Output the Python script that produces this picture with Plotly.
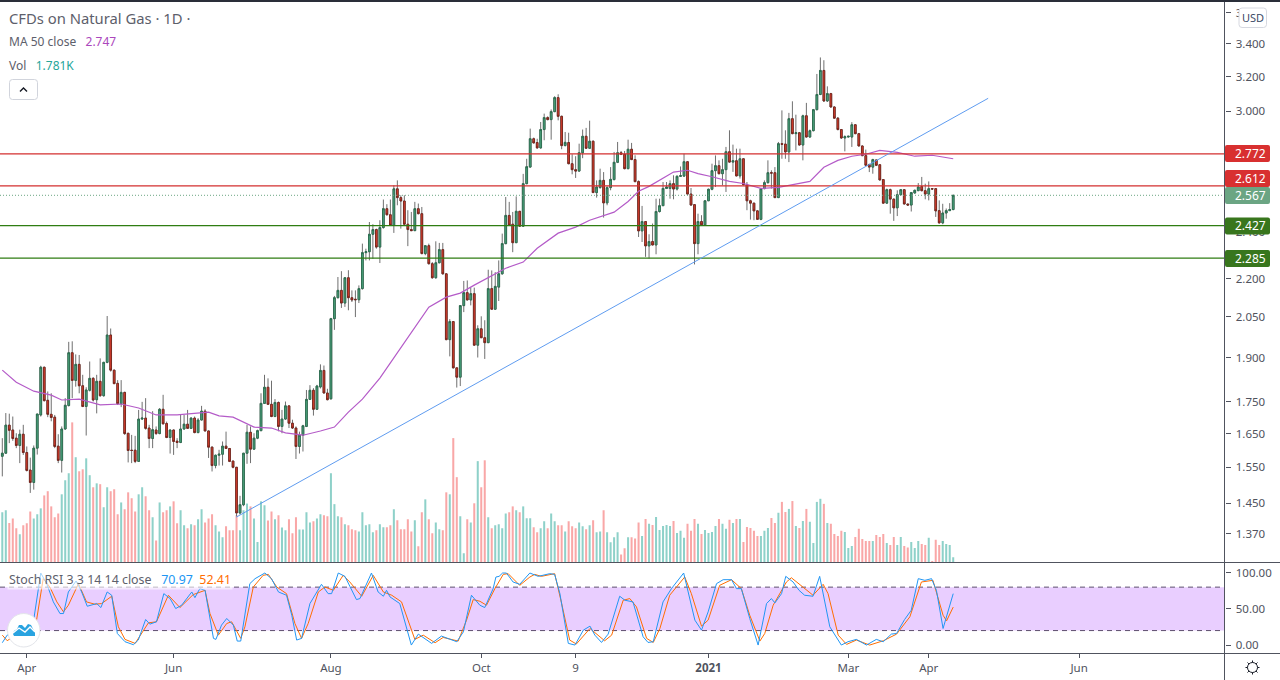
import plotly.graph_objects as go

W, H = 1280, 680

# daily candles
opens = [1.582,1.591,1.676,1.661,1.636,1.614,1.648,1.593,1.542,1.507,
1.606,1.708,1.866,1.755,1.71,1.701,1.612,1.57,1.664,1.738,
1.917,1.821,1.876,1.803,1.735,1.788,1.828,1.757,1.818,1.77,
1.883,1.981,1.856,1.811,1.744,1.781,1.651,1.6,1.6,1.567,
1.695,1.698,1.667,1.635,1.661,1.65,1.726,1.681,1.638,1.661,
1.627,1.623,1.664,1.679,1.666,1.698,1.653,1.692,1.72,1.658,
1.609,1.555,1.585,1.588,1.612,1.605,1.568,1.55,1.424,1.446,
1.591,1.654,1.603,1.636,1.659,1.745,1.798,1.742,1.703,1.748,
1.672,1.695,1.737,1.682,1.667,1.611,1.645,1.672,1.758,1.788,
1.726,
1.799,1.855,1.779,1.76,2.042,2.123,2.152,2.102,2.203,2.123,
2.117,2.115,2.159,2.308,2.312,2.388,2.409,2.332,2.418,2.504,
2.476,2.428,2.598,2.556,2.54,2.433,2.409,2.404,2.504,2.481,
2.304,2.338,2.261,2.203,2.265,2.321,2.219,1.964,2.031,1.864,
1.832,2.092,2.143,2.114,2.139,1.944,2.004,1.971,1.953,2.159,
2.078,2.165,2.219,2.347,2.473,2.433,2.351,2.492,2.424,2.623,
2.705,2.851,2.831,2.803,2.9,2.965,2.954,2.998,3.077,2.972,
2.815,2.831,2.722,2.692,2.685,2.778,2.864,2.801,2.838,2.58,
2.604,2.639,2.531,2.604,2.643,2.729,2.778,2.77,2.697,2.796,
2.743,2.633,
2.403,2.445,2.337,2.356,2.341,2.491,2.518,2.6,2.6,2.623,
2.597,2.659,2.66,2.732,2.573,2.523,2.347,2.445,2.43,2.541,
2.596,2.687,2.712,2.672,2.692,2.783,2.73,2.737,2.661,2.747,
2.618,2.541,2.53,2.494,2.455,2.599,2.628,2.677,2.677,2.556,
2.825,2.823,2.782,2.959,2.878,2.883,2.818,2.975,2.86,2.894,
3.009,3.095,3.236,3.058,3.1,3.024,2.962,2.9,2.855,2.86,
2.86,2.926,2.878,2.813,2.763,2.718,2.705,2.741,2.717,2.643,
2.53,2.594,2.549,2.508,2.57,2.594,2.526,2.521,2.578,2.589,
2.609,2.589,2.573,2.599,2.599,2.495,2.439,2.484,2.495,2.5]

highs = [1.636,1.714,1.712,1.703,1.651,1.662,1.677,1.611,1.578,1.614,
1.711,1.871,1.868,1.784,1.778,1.708,1.648,1.672,1.762,1.956,
1.958,1.911,1.909,1.84,1.798,1.886,1.832,1.84,1.897,1.885,
2.052,2.005,1.857,1.822,1.822,1.783,1.651,1.646,1.643,1.724,
1.75,1.762,1.677,1.72,1.672,1.73,1.773,1.687,1.662,1.662,
1.636,1.71,1.708,1.724,1.701,1.703,1.698,1.737,1.726,1.659,
1.611,1.587,1.601,1.626,1.656,1.606,1.569,1.55,1.47,1.591,
1.677,1.672,1.651,1.662,1.778,1.84,1.828,1.82,1.759,1.751,
1.724,1.751,1.737,1.693,1.672,1.656,1.677,1.789,1.805,1.795,
1.806,
1.876,1.872,1.793,2.045,2.13,2.206,2.23,2.206,2.234,2.152,
2.152,2.172,2.347,2.325,2.443,2.433,2.413,2.451,2.547,2.525,
2.547,2.615,2.639,2.567,2.567,2.497,2.489,2.536,2.528,2.512,
2.339,2.347,2.268,2.357,2.35,2.35,2.222,2.04,2.033,1.864,
2.093,2.19,2.192,2.163,2.163,2.017,2.051,2.036,2.236,2.233,
2.226,2.275,2.391,2.559,2.536,2.489,2.562,2.492,2.671,2.747,
2.905,2.857,2.851,2.941,2.987,2.972,3.01,3.085,3.096,2.976,
2.887,2.883,2.77,2.76,2.825,2.9,2.909,2.948,2.841,2.639,
2.697,2.68,2.61,2.705,2.782,2.834,2.787,2.787,2.846,2.829,
2.765,2.639,
2.517,2.447,2.388,2.436,2.551,2.551,2.631,2.631,2.639,2.664,
2.664,2.708,2.773,2.734,2.602,2.523,2.481,2.474,2.543,2.599,
2.722,2.764,2.739,2.747,2.808,2.896,2.82,2.799,2.799,2.751,
2.631,2.546,2.531,2.497,2.602,2.639,2.739,2.689,2.705,2.834,
3.005,2.896,2.991,3.056,2.981,2.887,2.981,3.047,2.9,3.013,
3.215,3.315,3.298,3.142,3.104,3.028,2.968,2.903,2.869,2.864,
2.94,2.93,2.882,2.816,2.794,2.722,2.747,2.741,2.717,2.643,
2.599,2.599,2.551,2.591,2.596,2.594,2.527,2.583,2.594,2.626,
2.656,2.623,2.634,2.599,2.599,2.543,2.527,2.505,2.53,2.57]

lows = [1.524,1.59,1.621,1.628,1.606,1.562,1.586,1.538,1.478,1.487,
1.587,1.703,1.751,1.701,1.688,1.606,1.562,1.535,1.662,1.735,
1.762,1.80,1.778,1.733,1.644,1.784,1.751,1.713,1.767,1.767,
1.88,1.851,1.809,1.74,1.733,1.646,1.564,1.562,1.562,1.567,
1.692,1.662,1.606,1.606,1.646,1.648,1.679,1.636,1.59,1.586,
1.606,1.621,1.662,1.664,1.664,1.651,1.651,1.691,1.657,1.577,
1.538,1.547,1.555,1.555,1.604,1.565,1.547,1.415,1.42,1.442,
1.56,1.562,1.601,1.633,1.657,1.743,1.74,1.701,1.701,1.657,
1.651,1.693,1.667,1.664,1.574,1.59,1.596,1.67,1.756,1.706,
1.724,
1.794,1.777,1.755,1.757,2.0,2.12,2.083,2.087,2.074,2.106,
2.048,2.102,2.155,2.275,2.275,2.282,2.325,2.264,2.413,2.473,
2.427,2.394,2.52,2.413,2.428,2.336,2.403,2.403,2.478,2.301,
2.297,2.258,2.199,2.199,2.263,2.216,1.962,1.904,1.862,1.797,
1.802,2.067,2.113,2.093,1.942,1.90,1.97,1.895,1.952,2.076,
2.076,2.11,2.216,2.344,2.427,2.31,2.35,2.421,2.421,2.62,
2.703,2.826,2.799,2.799,2.843,2.95,2.846,2.995,2.95,2.796,
2.811,2.719,2.669,2.651,2.682,2.75,2.798,2.799,2.578,2.556,
2.599,2.463,2.52,2.591,2.639,2.725,2.766,2.694,2.694,2.74,
2.63,2.376,
2.354,2.29,2.283,2.34,2.301,2.486,2.517,2.597,2.551,2.548,
2.59,2.656,2.656,2.57,2.518,2.258,2.301,2.428,2.428,2.54,
2.591,2.607,2.669,2.615,2.583,2.727,2.681,2.659,2.648,2.615,
2.497,2.454,2.451,2.454,2.451,2.596,2.623,2.599,2.554,2.554,
2.747,2.747,2.73,2.875,2.79,2.815,2.739,2.857,2.857,2.89,
3.005,3.091,3.052,3.052,3.02,2.959,2.896,2.85,2.785,2.858,
2.808,2.875,2.811,2.76,2.712,2.68,2.672,2.71,2.639,2.527,
2.527,2.481,2.448,2.47,2.565,2.524,2.519,2.491,2.575,2.588,
2.586,2.548,2.543,2.596,2.466,2.436,2.433,2.458,2.494,2.497]

closes = [1.591,1.676,1.66,1.635,1.614,1.648,1.593,1.541,1.507,1.606,
1.711,1.866,1.754,1.71,1.70,1.611,1.57,1.664,1.739,1.917,
1.821,1.876,1.803,1.735,1.789,1.828,1.756,1.818,1.77,1.883,
1.981,1.856,1.81,1.744,1.781,1.65,1.599,1.599,1.567,1.695,
1.698,1.666,1.635,1.662,1.65,1.726,1.68,1.638,1.661,1.626,
1.623,1.664,1.679,1.666,1.698,1.653,1.692,1.72,1.658,1.609,
1.555,1.585,1.588,1.612,1.605,1.567,1.55,1.424,1.446,1.591,
1.654,1.603,1.636,1.659,1.745,1.798,1.742,1.703,1.748,1.672,
1.695,1.737,1.682,1.667,1.611,1.645,1.674,1.758,1.788,1.726,
1.802,
1.855,1.779,1.757,2.042,2.123,2.152,2.102,2.203,2.123,2.114,
2.115,2.159,2.308,2.312,2.388,2.409,2.332,2.418,2.504,2.476,
2.428,2.598,2.556,2.54,2.433,2.409,2.404,2.504,2.481,2.304,
2.338,2.261,2.203,2.265,2.321,2.219,1.964,2.031,1.864,1.832,
2.092,2.143,2.114,2.139,1.944,2.004,1.971,1.953,2.159,2.078,
2.168,2.219,2.347,2.473,2.428,2.351,2.492,2.424,2.623,2.707,
2.851,2.829,2.803,2.9,2.965,2.954,2.998,3.077,2.972,2.815,
2.832,2.722,2.692,2.685,2.778,2.864,2.801,2.838,2.58,2.607,
2.639,2.531,2.604,2.644,2.729,2.778,2.77,2.697,2.796,2.743,
2.633,2.403,
2.445,2.337,2.356,2.341,2.491,2.518,2.6,2.607,2.623,2.597,
2.659,2.662,2.732,2.573,2.521,2.347,2.445,2.43,2.541,2.596,
2.687,2.712,2.672,2.692,2.783,2.73,2.737,2.661,2.747,2.618,
2.541,2.53,2.494,2.455,2.599,2.628,2.677,2.675,2.556,2.825,
2.822,2.782,2.959,2.878,2.883,2.818,2.975,2.86,2.894,3.009,
3.095,3.236,3.058,3.1,3.024,2.962,2.9,2.855,2.862,2.864,
2.926,2.878,2.813,2.763,2.714,2.705,2.743,2.714,2.641,2.53,
2.594,2.549,2.508,2.57,2.594,2.526,2.521,2.58,2.591,2.607,
2.589,2.573,2.599,2.597,2.494,2.439,2.484,2.495,2.5,2.567]

# volume in thousands
volumes = [17.8,18.5,14.0,15.6,12.1,10.0,13.2,13.9,18.1,15.6,
17.1,19.2,23.8,25.3,19.9,16.0,17.4,24.2,29.2,31.7,
49.8,37.4,32.4,33.1,37.0,31.0,26.7,28.1,27.8,19.6,
26.7,25.3,26.0,17.1,21.3,18.9,24.9,22.8,18.1,24.2,
26.7,23.5,18.5,16.0,7.8,21.3,17.8,18.5,19.9,21.7,
13.9,18.5,13.2,12.1,13.5,13.2,15.3,18.9,14.2,15.6,
17.1,13.2,11.0,8.9,12.8,11.4,11.4,16.7,11.4,18.5,
20.9,19.9,15.6,7.2,21.7,20.3,14.9,18.1,15.3,16.7,
12.4,11.4,15.3,10.3,16.0,11.7,11.7,17.8,14.2,14.6,
15.6,17.1,
16.7,16.4,31.7,20.7,16.4,16.0,13.5,13.2,11.8,11.4,
11.0,17.8,13.2,13.5,10.7,11.4,13.5,12.5,12.5,13.2,
18.9,15.0,11.8,11.8,15.3,11.0,15.0,5.7,17.8,22.4,
15.3,10.3,14.2,11.8,11.4,24.9,24.2,44.2,30.3,16.4,
3.2,15.3,14.2,21.0,36.0,26.7,36.3,16.0,12.1,13.2,
13.5,12.1,17.4,17.8,19.9,18.5,17.8,19.9,15.7,15.7,
12.5,10.7,12.1,14.6,12.1,17.4,14.6,13.2,13.2,11.0,
14.6,12.8,12.1,14.2,12.8,11.8,13.2,15.0,10.7,11.0,
18.5,10.7,7.1,8.9,10.7,2.8,5.0,8.9,8.9,8.5,
14.2,
9.4,15.4,13.7,13.3,16.1,11.5,12.9,13.3,12.9,14.7,
10.4,11.2,8.7,13.7,11.2,15.4,13.7,10.1,11.5,10.4,
10.8,12.9,15.4,13.7,11.9,15.1,14.0,15.4,15.4,7.2,
12.6,12.2,11.2,9.4,9.4,11.2,12.2,15.8,14.0,17.6,
21.5,17.9,19.0,21.8,12.9,12.2,14.7,19.0,14.4,6.9,
21.5,22.6,20.8,14.0,13.7,10.1,9.4,11.2,10.8,5.1,
5.8,9.0,11.9,8.3,7.6,7.6,7.6,9.7,9.0,10.1,
6.9,6.2,9.0,6.2,9.0,5.8,5.3,7.2,5.1,7.6,
6.5,6.2,8.7,0.5,8.0,6.2,7.6,6.5,6.2,1.781]

# MA 50, read at bar positions
ma_bars = [0,4,9,14,17,22,28,34,39,44,50,57,59,62,66,72,77,81,86,91,95,99,103,108,113,119,122,127,131,135,
139,144,149,153,159,164,168,175,179,182,185,188,192,196,199,203,208,212,217,222,226,231,235,239,243,247,251,256,261,266,272]
ma_vals = [1.856,1.815,1.785,1.772,1.756,1.759,1.74,1.743,1.73,1.708,1.708,1.714,1.717,1.705,1.701,1.67,1.667,1.652,1.645,1.658,
1.67,1.717,1.759,1.829,1.916,2.028,2.086,2.125,2.141,2.173,2.202,2.242,2.268,2.327,2.393,2.42,2.451,2.488,2.538,2.586,
2.61,2.639,2.68,2.689,2.672,2.657,2.634,2.624,2.6,2.605,2.619,2.634,2.704,2.739,2.76,2.77,2.79,2.78,2.76,2.765,2.747]

# Stoch RSI
k_bars = [0,1.4,8.9,11,12.7,14.6,16.5,17.5,18.9,21.1,22.7,24.3,27,28.2,30,31.3,32.9,35.1,37.5,38.9,41,42.2,44.1,46.2,48,49.6,51.3,54.2,55.1,56.5,
58,60.4,61.1,62.7,64.2,66.1,67.2,68.2,70.8,72.3,75.1,77,79,81.3,82.8,84.2,85.6,88,91.3,93.2,94.2,96.1,98,101.3,102.3,105.6,107.5,109,109.9,110.9,
113.7,117,119,120.9,122.8,125.6,130,131.9,134.2,136.6,138,140.4,141.2,142.1,143.1,144.2,146.1,148,149.5,150.9,153.3,156.6,158,159.5,161.9,163.8,166.2,168.1,169.5,171.4,
173.3,176.6,178.1,180.4,183.3,184.7,186.2,189,191.4,194.9,198.1,200,201.9,204.3,206.2,208.6,210,211.4,213.8,216.2,218.6,220,221,222.9,224.1,226.2,227.9,229.5,
231.9,233.8,236.7,240,241.9,244.3,247.2,250,252,254.3,255.8,258.1,260,262,263.9,265.8,267.2,269.1,272]
k_vals = [3.2,13.7,32.1,99.5,84.8,59.6,43.5,43.5,73.3,88.5,73.3,53.6,57.3,51.8,73.3,68.8,16,4.6,0.5,6.9,35.3,28.9,32.1,71,64.2,50.4,55,73.3,65.5,77.9,
75.6,9.2,7.8,27.5,36.7,27.5,5.5,5.5,84.8,91.7,99.5,91.7,73.3,68.8,41.2,6.9,9.2,57.3,83.9,71,71,99.5,94.9,62.8,64.2,99.5,73.3,67.4,75.6,66.5,
57.3,0,15.1,9.2,2.3,12.4,4.6,18.3,68.8,55,51.8,77.9,94,94.9,99.5,99.5,87.1,83.9,91.7,99.5,94.9,98.6,97.6,71,2.3,0,20.6,26.1,13.7,3.6,
15.1,67.4,61.9,59.6,11.4,3.6,4.6,59.6,77.9,99.5,34.4,20.6,45.8,84.8,90.3,90.3,77.9,77.9,36.7,0,57.3,64.2,58.2,71,94.9,87.1,75.6,68.8,
67.4,94.9,25.2,0,4.6,7.8,0,7.8,4.6,15.1,16,35.3,48.1,91.7,89.4,91.7,75.6,22.9,70.97]
d_bars = [0,1.4,8.9,9.8,11.7,13.6,15.6,17.5,18.9,21.8,24.1,26.5,28.4,31.3,33.2,35.1,38,39.9,41.8,44.1,47.5,50.8,54.6,58,59.4,61.8,64.2,65.6,68.2,69.4,
71.8,74.6,76.1,78.5,81.3,83.7,85.6,87.5,90.4,92.3,94.7,97.5,99.4,102.8,106.1,109,111.4,114.2,118,120.4,123.8,126.1,130.4,132.8,134.7,136.6,138.5,140.9,143.3,144.7,
148,150.9,152.3,154.2,158,160,162.3,164.2,168.1,172.3,174.3,177.6,179.5,181.4,184.3,186.2,188.1,190.9,195.2,197.1,200,201.9,205.2,208.6,211.4,213.8,216.7,218.1,220.5,224.3,
225.7,231.9,234.8,236.2,239.1,241.5,244.3,248.1,252,255.8,259.6,262.9,266.2,269.1,270.1,272]
d_vals = [13.7,6,29.8,34.4,91.7,80.2,59.6,45.8,55,84.8,59.6,56.4,57.3,67.4,25.2,7.8,2.3,16,30.7,32.1,68.8,51.8,69.7,75.6,43.5,13.7,29.8,32.1,9.2,25.2,
80.2,96.3,97.6,80.2,71,29.8,9.2,29.8,73.3,80.2,75.6,96.3,87.1,67.4,96.3,73.3,68.8,59.6,7.8,13.7,3.2,10.5,5.5,34.4,62.8,60.5,55,77.9,97.6,98.6,
82.5,94,97.6,94.9,98.6,57.3,6.9,1.4,22.9,5.9,13.7,61.9,64.2,52.7,9.2,3.6,22.9,68.8,94,71,26.1,34.4,82.5,90.3,77.9,41.2,5.5,16,55,87.1,
93,68.8,83.9,71,13.7,0.9,6.9,0,5.9,15.1,39,87.1,89.4,41.2,33.4,52.41]

tick_bars = [7, 49, 94, 137, 164, 202, 242, 265, 308]
tick_text = ["Apr", "Jun", "Aug", "Oct", "9", "<b>2021</b>", "Mar", "Apr", "Jun"]
price_ticks = [1.37, 1.45, 1.55, 1.65, 1.75, 1.9, 2.05, 2.2, 2.4, 2.6, 2.8, 3.0, 3.2, 3.4, 3.6]

red_levels = [2.772, 2.612]
green_levels = [2.427, 2.285]
last_price = 2.567
trend_bars = [66.9, 282]
trend_vals = [1.413, 3.073]

FONT = "Noto Sans"
AXIS = "#50535e"
bars = list(range(len(closes)))
x_lim = [-0.658, 349.6]
x_dom = 1224.5 / W


def px(x):
    return x / W


def py(y):
    return 1 - y / H


def rrect(x0, y0, x1, y1, r):
    # rounded box in page pixels, as a paper path
    return (f"M{px(x0+r)},{py(y0)} L{px(x1-r)},{py(y0)} Q{px(x1)},{py(y0)} {px(x1)},{py(y0+r)} "
            f"L{px(x1)},{py(y1-r)} Q{px(x1)},{py(y1)} {px(x1-r)},{py(y1)} L{px(x0+r)},{py(y1)} "
            f"Q{px(x0)},{py(y1)} {px(x0)},{py(y1-r)} L{px(x0)},{py(y0+r)} Q{px(x0)},{py(y0)} {px(x0+r)},{py(y0)} Z")


def poly(points, close=False):
    s = "M" + " L".join(f"{px(a)},{py(b)}" for a, b in points)
    return s + (" Z" if close else "")


fig = go.Figure()

vol_colors = ["#8ed1c9" if c >= o else "#f9a7a7" for o, c in zip(opens, closes)]
fig.add_trace(go.Bar(x=bars, y=volumes, width=0.58, marker=dict(color=vol_colors, line=dict(width=0)),
                     yaxis="y", hoverinfo="skip"))

# wicks first, then bodies with their darker outline on top
fig.add_trace(go.Candlestick(x=bars, open=opens, high=highs, low=lows, close=closes, yaxis="y2",
                             increasing=dict(line=dict(color="#6f6f6f", width=1), fillcolor="#6f6f6f"),
                             decreasing=dict(line=dict(color="#6f6f6f", width=1), fillcolor="#6f6f6f"),
                             hoverinfo="skip"))
fig.add_trace(go.Candlestick(x=bars, open=opens, close=closes, yaxis="y2",
                             high=[max(o, c) for o, c in zip(opens, closes)],
                             low=[min(o, c) for o, c in zip(opens, closes)],
                             increasing=dict(line=dict(color="#24694a", width=0.8), fillcolor="#4fa680"),
                             decreasing=dict(line=dict(color="#701f17", width=0.8), fillcolor="#e0402f"),
                             hoverinfo="skip"))

fig.add_trace(go.Scatter(x=ma_bars, y=ma_vals, mode="lines", yaxis="y2", line=dict(color="#b45bc8", width=1.2)))
for lv in red_levels:
    fig.add_trace(go.Scatter(x=x_lim, y=[lv, lv], mode="lines", yaxis="y2", line=dict(color="#d32f2f", width=1.3)))
for lv in green_levels:
    fig.add_trace(go.Scatter(x=x_lim, y=[lv, lv], mode="lines", yaxis="y2", line=dict(color="#2f7d12", width=1.3)))
fig.add_trace(go.Scatter(x=x_lim, y=[last_price, last_price], mode="lines", yaxis="y2",
                         line=dict(color="#6ba583", width=1, dash="1px 2px")))
fig.add_trace(go.Scatter(x=trend_bars, y=trend_vals, mode="lines", yaxis="y2", line=dict(color="#5f9cf0", width=1)))

fig.add_trace(go.Scatter(x=d_bars, y=d_vals, mode="lines", yaxis="y3", line=dict(color="#ff6d00", width=1)))
fig.add_trace(go.Scatter(x=k_bars, y=k_vals, mode="lines", yaxis="y3", line=dict(color="#2196f3", width=1)))

shapes = [
    dict(type="rect", xref="paper", yref="y3", x0=0, x1=x_dom, y0=20, y1=80, layer="below",
         fillcolor="#e9ceff", line=dict(width=0)),
]
for lv in [80, 20]:
    shapes.append(dict(type="line", xref="paper", yref="y3", x0=0, x1=x_dom, y0=lv, y1=lv, layer="below",
                       line=dict(color="#5d4e6e", width=1, dash="5px 4px")))
# pane borders
shapes += [
    dict(type="rect", xref="paper", yref="paper", x0=0, x1=1, y0=py(2), y1=1, fillcolor="#2a2e39", line=dict(width=0)),
    dict(type="line", xref="paper", yref="paper", x0=0, x1=1, y0=py(562.5), y1=py(562.5), line=dict(color=AXIS, width=1)),
    dict(type="line", xref="paper", yref="paper", x0=0, x1=1, y0=py(653.5), y1=py(653.5), line=dict(color=AXIS, width=1)),
    dict(type="line", xref="paper", yref="paper", x0=x_dom, x1=x_dom, y0=0, y1=py(2), line=dict(color=AXIS, width=1)),
]

annos = []


def text(x, y, s, size, color="#50535e", anchor="left", **kw):
    annos.append(dict(xref="paper", yref="paper", x=px(x), y=py(y), text=s, showarrow=False, xanchor=anchor,
                      yanchor="middle", font=dict(family=FONT, size=size, color=color), **kw))


# price tags
tags = [(153.5, "2.772", "#d83030"), (178.5, "2.612", "#d83030"), (195.5, "2.567", "#6ba583"),
        (226, "2.427", "#38761d"), (258.5, "2.285", "#38761d")]
for yc, s, col in tags:
    shapes.append(dict(type="path", xref="paper", yref="paper", path=rrect(1225, yc - 8.5, 1270, yc + 8.5, 2),
                       fillcolor=col, line=dict(width=0)))
    text(1250, yc, s, 12, "#ffffff", anchor="center")

# USD button
shapes.append(dict(type="path", xref="paper", yref="paper", path=rrect(1239, 8, 1266.5, 27.5, 3),
                   fillcolor="#ffffff", line=dict(color="#d6d8e0", width=1)))
text(1253, 17, "USD", 11, "#3a4a66", anchor="center")

# collapse button in the legend
shapes.append(dict(type="path", xref="paper", yref="paper", path=rrect(9.5, 79.5, 37.5, 99.5, 3),
                   fillcolor="#ffffff", line=dict(color="#d1d4dc", width=1)))
shapes.append(dict(type="path", xref="paper", yref="paper", path=poly([(20, 91.5), (23.5, 88), (27, 91.5)]),
                   line=dict(color="#131722", width=1.4)))

text(7, 18, "CFDs on Natural Gas · 1D ·", 14.8, "#5d606b")
text(7, 41.5, 'MA 50 close   <span style="color:#ab47bc">2.747</span>', 12, "#5d606b")
text(7, 65.5, 'Vol   <span style="color:#26a69a">1.781K</span>', 12, "#5d606b")
text(7, 579.5, ('Stoch RSI 3 3 14 14 close   <span style="color:#2196f3">70.97</span>  '
                '<span style="color:#ff6d00">52.41</span>'), 12.4, "#5d606b",
     bgcolor="rgba(255,255,255,0.6)")

# logo, bottom left
shapes.append(dict(type="circle", xref="paper", yref="paper", x0=px(7.5), x1=px(40), y0=py(647), y1=py(613.5),
                   fillcolor="#ffffff", line=dict(color="#e3e5ea", width=1)))
shapes.append(dict(type="path", xref="paper", yref="paper", fillcolor="#29a3e0", line=dict(width=0),
                   path=poly([(13, 634), (14, 631), (17, 629), (19, 625), (22, 625), (25, 628), (28, 624), (31, 625),
                              (33, 629), (35, 632), (35, 636), (14, 636)], close=True)))
shapes.append(dict(type="path", xref="paper", yref="paper", line=dict(color="#ffffff", width=1.4),
                   path=poly([(13, 633), (19, 628), (25, 632), (30, 627), (35, 632)])))

# settings gear, bottom right
gx, gy = 1252.5, 667.5
shapes.append(dict(type="circle", xref="paper", yref="paper", x0=px(gx - 5), x1=px(gx + 5), y0=py(gy + 5), y1=py(gy - 5),
                   line=dict(color="#131722", width=1)))
for a, b in [(0, -7), (0, 7), (-7, 0), (7, 0), (-5, -5), (5, -5), (-5, 5), (5, 5)]:
    shapes.append(dict(type="path", xref="paper", yref="paper", line=dict(color="#131722", width=1),
                       path=poly([(gx + a * 0.72, gy + b * 0.72), (gx + a, gy + b)])))

fig.update_layout(
    width=W, height=H, margin=dict(l=0, r=0, t=0, b=0), autosize=False,
    paper_bgcolor="#ffffff", plot_bgcolor="#ffffff", showlegend=False, hovermode=False,
    barmode="overlay", boxmode="overlay", boxgap=0.3, shapes=shapes, annotations=annos,
    font=dict(family=FONT, size=11.5, color=AXIS),
    xaxis=dict(domain=[0, x_dom], range=x_lim, anchor="y3", showgrid=False, zeroline=False, showline=False,
               rangeslider=dict(visible=False), tickmode="array", tickvals=tick_bars, ticktext=tick_text,
               ticks="outside", ticklen=4, tickcolor=AXIS, tickfont=dict(size=11.5, color=AXIS)),
    yaxis=dict(domain=[py(562.3), py(2)], range=[0, 199.4], visible=False, fixedrange=True),
    yaxis2=dict(domain=[py(562.3), py(2)], overlaying="y", type="log", range=[0.11378, 0.56515], side="right",
                anchor="x", position=x_dom, showgrid=False, zeroline=False, showline=False,
                tickmode="array", tickvals=price_ticks, ticktext=[f"{t:.3f}" for t in price_ticks],
                ticks="outside", ticklen=5, ticklabelstandoff=3, tickcolor=AXIS, tickfont=dict(size=11.5, color=AXIS)),
    yaxis3=dict(domain=[py(653.3), py(562.7)], range=[-11.4, 113.75], side="right", anchor="x",
                showgrid=False, zeroline=False, showline=False, tickmode="array", tickvals=[0, 50, 100],
                ticktext=["0.00", "50.00", "100.00"], ticks="outside", ticklen=5, ticklabelstandoff=3, tickcolor=AXIS,
                tickfont=dict(size=11.5, color=AXIS)),
)

# the page's default body margin would shift the whole chart
fig.write_html("out.html", config={"displayModeBar": False},
               post_script="document.body.style.margin='0';document.documentElement.style.overflow='hidden';")
